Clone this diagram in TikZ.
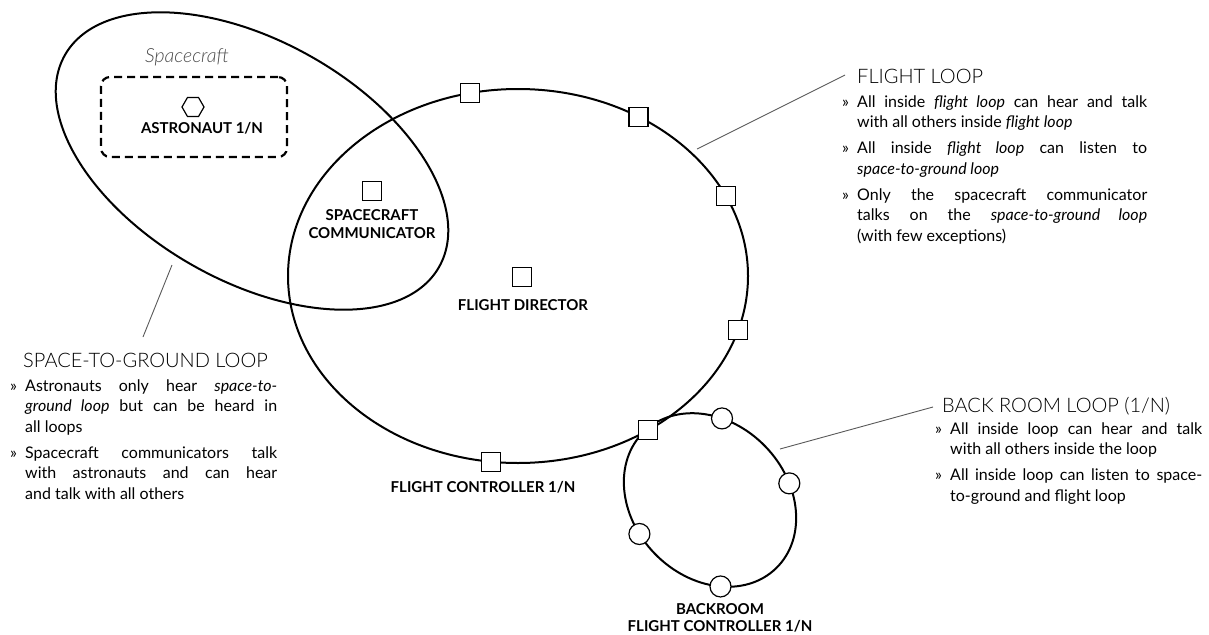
\documentclass[tikz,border=0pt]{standalone}
\usepackage{fontspec}
\setmainfont{Lato}
\newfontfamily\thinfont{Lato Light}
\usetikzlibrary{shapes.geometric}
\newcommand{\loopitem}[1]{\hangindent=15pt\hangafter=1\noindent\makebox[15pt][l]{»}#1\par}

\begin{document}
\begin{tikzpicture}[x=1pt,y=-1pt,
  loopline/.style={line width=2pt},
  post/.style={draw, fill=white, line width=1.2pt, minimum size=19pt, inner sep=0pt},
  seat/.style={circle, draw, fill=white, line width=1.2pt, minimum size=21pt, inner sep=0pt},
  pod/.style={regular polygon, regular polygon sides=6, draw, line width=1.2pt, minimum size=22pt, inner sep=0pt},
  crewbox/.style={draw, line width=2.2pt, dash pattern=on 8pt off 5pt, rounded corners=9pt, minimum width=186pt, minimum height=80pt},
  role/.style={font=\bfseries\fontsize{15}{17.5}\selectfont, align=center, inner sep=0pt},
  leader/.style={draw=black!65, line width=0.9pt},
  heading/.style={font=\thinfont\fontsize{20}{22}\selectfont, anchor=base west, inner sep=0pt},
  notes/.style={font=\fontsize{16}{20.5}\selectfont, anchor=base west, inner sep=0pt, text width=#1, align=justify},
]
\useasboundingbox (0,0) rectangle (1209,634);

% the three loops
\begin{scope}[shift={(252,161)},rotate=-29.5]
  \draw[loopline] (0,0) ellipse [x radius=215, y radius=120];
\end{scope}
\draw[loopline] (518,276) ellipse [x radius=230, y radius=187];
\begin{scope}[shift={(710,500)},rotate=-46]
  \draw[loopline] (0,0) ellipse [x radius=95, y radius=77];
  \foreach \t [count=\i] in {238,297,105,43}
    \node[seat] (back\i) at (\t:95 and 77) {};
\end{scope}
\begin{scope}[shift={(518,276)}]
  \foreach \t [count=\i] in {258,301.6,334.7,16.9,55.5,96.8}
    \node[post] (flight\i) at (\t:230 and 187) {};
\end{scope}

% spacecraft
\node[font=\thinfont\itshape\fontsize{19.5}{21}\selectfont, text=black!70] (craft) at (187,57) {Spacecraft};
\node[crewbox] (crew) at (194,117) {};
\node[pod] (astro) at (193,107) {};
\node[role] (astrolabel) at (202,128) {ASTRONAUT 1/N};

% people on the loops
\node[post] (capcom) at (372,191) {};
\node[role] (capcomlabel) at (372,224) {SPACECRAFT\\COMMUNICATOR};
\node[post] (director) at (522,277) {};
\node[role] (directorlabel) at (523,305) {FLIGHT DIRECTOR};
\node[role] (controllerlabel) at (483,487) {FLIGHT CONTROLLER 1/N};
\node[role] (backlabel) at (720,618) {BACKROOM\\FLIGHT CONTROLLER 1/N};

% legends
\node[heading] (flighttitle) at (857,83) {FLIGHT LOOP};
\node[notes=305pt] (flightnotes) at (842,107) {\parskip=5.5pt\hyphenpenalty=10000
  \loopitem{All inside \textit{flight loop} can hear and talk\linebreak with all others inside \textit{flight loop}}
  \loopitem{All inside \textit{flight loop} can listen to\linebreak \textit{space-to-ground loop}}
  \loopitem{Only the spacecraft communicator\linebreak talks on the \textit{space-to-ground loop}\linebreak (with few exceptions)}};

\node[heading] (stgtitle) at (23,367) {SPACE-TO-GROUND LOOP};
\node[notes=267pt] (stgnotes) at (10,391) {\parskip=5.5pt\hyphenpenalty=10000
  \loopitem{Astronauts only hear \textit{space-to-}\linebreak \textit{ground loop} but can be heard in\linebreak all loops}
  \loopitem{Spacecraft communicators talk\linebreak with astronauts and can hear\linebreak and talk with all others}};

\node[heading] (backtitle) at (942,412) {BACK ROOM LOOP (1/N)};
\node[notes=267pt] (backnotes) at (935,434) {\parskip=5.5pt\hyphenpenalty=10000
  \loopitem{All inside loop can hear and talk\linebreak with all others inside the loop}
  \loopitem{All inside loop can listen to space-\linebreak to-ground and flight loop}};

% leader lines
\coordinate (stgA) at (172,265);
\coordinate (stgB) at (143,337);
\coordinate (flightA) at (697,149);
\coordinate (flightB) at (845,75);
\coordinate (backA) at (780,449);
\coordinate (backB) at (933,407);
\draw[leader] (stgA) -- (stgB);
\draw[leader] (flightA) -- (flightB);
\draw[leader] (backA) -- (backB);
\end{tikzpicture}
\end{document}
